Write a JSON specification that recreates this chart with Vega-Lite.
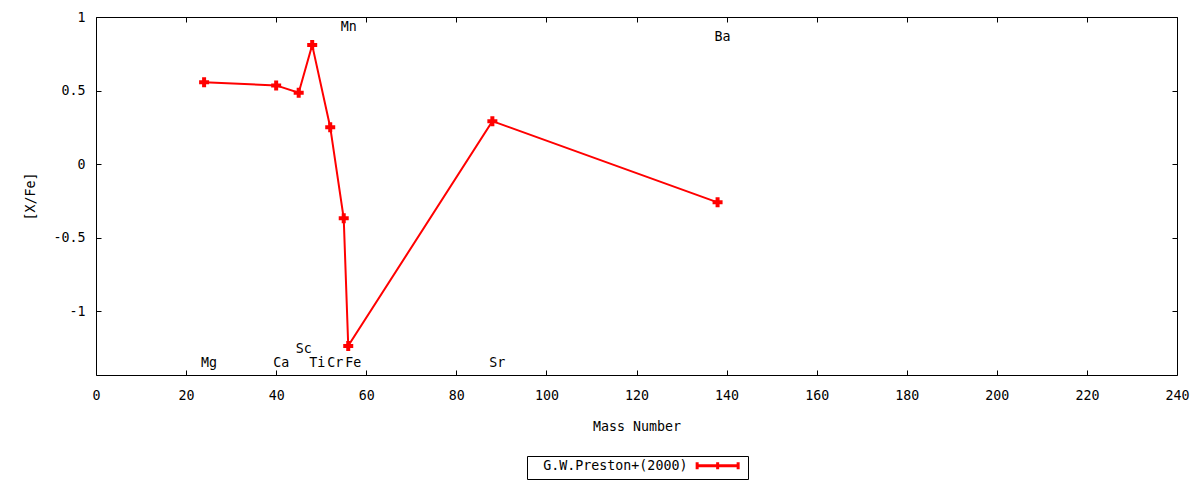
{
  "$schema": "https://vega.github.io/schema/vega-lite/v6.json",
  "width": 1081,
  "height": 358,
  "autosize": "none",
  "padding": {"left": 96, "top": 17, "right": 23, "bottom": 105},
  "background": "white",
  "config": {
    "font": "DejaVu Sans Mono",
    "view": {"stroke": "black", "strokeWidth": 1},
    "axis": {
      "grid": false,
      "domain": false,
      "tickColor": "black",
      "tickWidth": 1,
      "tickSize": -5,
      "labelFlush": false,
      "labelFont": "DejaVu Sans Mono",
      "labelFontSize": 13.3,
      "labelColor": "black",
      "titleFont": "DejaVu Sans Mono",
      "titleFontSize": 13.3,
      "titleFontWeight": "normal",
      "titleColor": "black"
    }
  },
  "datasets": {
    "abund": [
      {"el": "Mg", "mass": 24, "xfe": 0.557, "src": "G.W.Preston+(2000)"},
      {"el": "Ca", "mass": 40, "xfe": 0.535, "src": "G.W.Preston+(2000)"},
      {"el": "Sc", "mass": 45, "xfe": 0.485, "src": "G.W.Preston+(2000)"},
      {"el": "Ti", "mass": 48, "xfe": 0.809, "src": "G.W.Preston+(2000)"},
      {"el": "Cr", "mass": 52, "xfe": 0.251, "src": "G.W.Preston+(2000)"},
      {"el": "Mn", "mass": 55, "xfe": -0.369, "src": "G.W.Preston+(2000)"},
      {"el": "Fe", "mass": 56, "xfe": -1.236, "src": "G.W.Preston+(2000)"},
      {"el": "Sr", "mass": 88, "xfe": 0.292, "src": "G.W.Preston+(2000)"},
      {"el": "Ba", "mass": 138, "xfe": -0.26, "src": "G.W.Preston+(2000)"}
    ],
    "labels": [
      {"el": "Mg", "mass": 24, "ly": -1.354},
      {"el": "Ca", "mass": 40, "ly": -1.354},
      {"el": "Sc", "mass": 45, "ly": -1.259},
      {"el": "Ti", "mass": 48, "ly": -1.354},
      {"el": "Cr", "mass": 52, "ly": -1.354},
      {"el": "Mn", "mass": 55, "ly": 0.933},
      {"el": "Fe", "mass": 56, "ly": -1.354},
      {"el": "Sr", "mass": 88, "ly": -1.354},
      {"el": "Ba", "mass": 138, "ly": 0.866}
    ]
  },
  "resolve": {"axis": {"x": "independent", "y": "independent"}},
  "layer": [
    {
      "data": {"name": "abund"},
      "mark": {"type": "line", "strokeWidth": 2, "clip": true,
        "point": {"shape": "cross", "size": 100, "filled": true, "color": "red"}},
      "encoding": {
        "x": {"field": "mass", "type": "quantitative",
          "scale": {"domain": [0, 240], "nice": false, "zero": false},
          "axis": {"orient": "bottom", "values": [0,20,40,60,80,100,120,140,160,180,200,220,240],
            "labelPadding": 18, "title": "Mass Number", "titlePadding": 18}},
        "y": {"field": "xfe", "type": "quantitative",
          "scale": {"domain": [-1.434, 1], "nice": false, "zero": false},
          "axis": {"orient": "left", "values": [-1, -0.5, 0, 0.5, 1], "labelExpr": "'' + datum.value",
            "labelPadding": 16, "title": "[X/Fe]", "titlePadding": 15}},
        "color": {"field": "src", "type": "nominal",
          "scale": {"range": ["#ff0000"]},
          "legend": {
            "title": null,
            "orient": "none",
            "legendX": 431,
            "legendY": 439,
            "strokeColor": "black",
            "padding": 3,
            "labelFont": "DejaVu Sans Mono",
            "labelFontSize": 13.3,
            "labelColor": "black",
            "symbolType": "M-4.1,0H4.1M-4.1,-0.7V0.7M0,-0.7V0.7M4.1,-0.7V0.7",
            "symbolSize": 100,
            "symbolStrokeWidth": 3,
            "symbolStrokeColor": "#ff0000",
            "symbolFillColor": "transparent",
            "labelOffset": -181,
            "symbolOffset": 181
          }}
      }
    },
    {
      "data": {"name": "labels"},
      "mark": {"type": "text", "align": "left", "baseline": "middle", "dx": -3, "fontSize": 13.3, "color": "black", "font": "DejaVu Sans Mono"},
      "encoding": {
        "x": {"field": "mass", "type": "quantitative",
          "axis": {"orient": "top", "values": [0,20,40,60,80,100,120,140,160,180,200,220,240], "labels": false, "title": null}},
        "y": {"field": "ly", "type": "quantitative",
          "axis": {"orient": "right", "values": [-1, -0.5, 0, 0.5, 1], "labels": false, "title": null}},
        "text": {"field": "el"}
      }
    }
  ]
}
